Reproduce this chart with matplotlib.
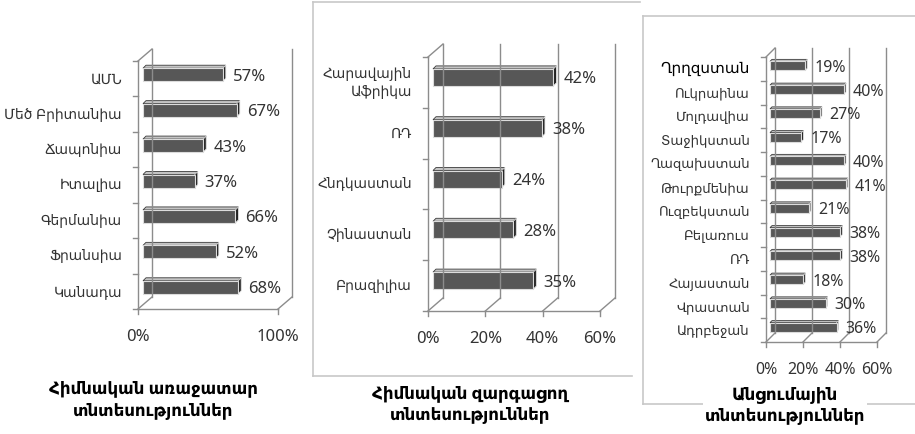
import matplotlib
matplotlib.use("Agg")
import matplotlib.pyplot as plt
from matplotlib.patches import Rectangle, Polygon
from matplotlib.lines import Line2D

plt.rcParams['font.family'] = ['Noto Sans', 'DejaVu Sans']

# leading economies
lead_names = ["ԱՄՆ", "Մեծ Բրիտանիա", "Ճապոնիա", "Իտալիա", "Գերմանիա", "Ֆրանսիա", "Կանադա"]
lead_vals = [57, 67, 43, 37, 66, 52, 68]

# developing economies
dev_names = ["Հարավային\nԱֆրիկա", "ՌԴ", "Հնդկաստան", "Չինաստան", "Բրազիլիա"]
dev_vals = [42, 38, 24, 28, 35]

# transition economies
trans_names = ["Ղրղզստան", "Ուկրաինա", "Մոլդավիա", "Տաջիկստան", "Ղազախստան", "Թուրքմենիա",
               "Ուզբեկստան", "Բելառուս", "ՌԴ", "Հայաստան", "Վրաստան", "Ադրբեջան"]
trans_vals = [19, 40, 27, 17, 40, 41, 21, 38, 38, 18, 30, 36]

titles = ["Հիմնական առաջատար\nտնտեսություններ",
          "Հիմնական զարգացող\nտնտեսություններ",
          "Անցումային\nտնտեսություններ"]

W, H = 915, 435
fig = plt.figure(figsize=(W / 100, H / 100), dpi=100)
fig.patch.set_facecolor("white")

GRID = "#8c8c8c"
TXT = "#333333"


def fig_line(x0, y0, x1, y1, color="#c8c8c8", lw=1.2):
    fig.add_artist(Line2D([x0 / W, x1 / W], [1 - y0 / H, 1 - y1 / H],
                          transform=fig.transFigure, color=color, lw=lw))


def panel(box, names, vals, xmax, ticks, wall, shift, bar_px, bd, cat_fs, val_fs, first_fs=None):
    l, t, r, b = box
    ax = fig.add_axes([l / W, 1 - b / H, (r - l) / W, (b - t) / H])
    n = len(names)
    ax.set_xlim(0, xmax)
    ax.set_ylim(n, 0)
    ax.axis("off")
    kx = xmax / (r - l)   # data units per pixel
    ky = n / (b - t)
    wdx, wdy = wall[0] * kx, -wall[1] * ky

    def line(xs, ys, **kw):
        ax.add_line(Line2D(xs, ys, color=GRID, lw=1.0, clip_on=False, **kw))

    # walls and floor
    line([0, 0], [n, 0])
    line([0, wdx], [0, wdy])
    line([0, xmax], [n, n])
    for tk in ticks:
        line([tk, tk + wdx], [n, n + wdy])
        line([tk + wdx, tk + wdx], [n + wdy, wdy])
        line([tk, tk], [n, n + 5 * ky])
        ax.text(tk, n + 27 * ky, f"{tk}%", ha="center", va="center",
                fontsize=val_fs, color=TXT, clip_on=False)
    for j in range(n + 1):
        line([-5 * kx, 0], [j, j])

    # bars with a small 3d face
    cx = shift[0] * kx
    h = bar_px * ky
    bdx, bdy = bd * kx, -bd * ky
    for i, (name, v) in enumerate(zip(names, vals)):
        yc = i + 0.5 - shift[1] * ky
        top, bot = yc - h / 2, yc + h / 2
        ax.add_patch(Polygon([(cx, top), (cx + bdx, top + bdy), (cx + v + bdx, top + bdy), (cx + v, top)],
                             closed=True, fc="#c4c4c4", ec="#3a3a3a", lw=0.6, clip_on=False))
        ax.add_patch(Polygon([(cx + v, bot), (cx + v + bdx, bot + bdy), (cx + v + bdx, top + bdy), (cx + v, top)],
                             closed=True, fc="#202020", ec="#e0e0e0", lw=0.6, clip_on=False))
        ax.add_patch(Rectangle((cx, top), v, h, fc="#575757", ec="#dcdcdc", lw=0.8, clip_on=False))
        ax.text(cx + v + bdx + 7 * kx, yc + 1 * ky, f"{v}%", ha="left", va="center",
                fontsize=val_fs, color=TXT, clip_on=False)
        fs = first_fs if (first_fs and i == 0) else cat_fs
        col = "black" if (first_fs and i == 0) else TXT
        ax.text(-16 * kx, i + 0.5, name, ha="right", va="center", fontsize=fs,
                color=col, linespacing=1.3, clip_on=False)
    return ax


# frames around the second and third charts
fig_line(313, 3, 640, 3)
fig_line(313, 3, 313, 377)
fig_line(313, 377, 632, 377)
fig_line(643, 17, 915, 17)
fig_line(643, 17, 643, 405)
fig_line(643, 405, 915, 405)

panel((138, 62, 278, 310), lead_names, lead_vals, 100, [0, 100], (14, 12), (5, 4), 13, 3, 10, 12)
panel((428, 58, 600, 312), dev_names, dev_vals, 60, [0, 20, 40, 60], (15, 13), (5, 5), 17, 3, 10, 12)
panel((766, 58, 877, 343), trans_names, trans_vals, 60, [0, 20, 40, 60], (9, 9), (4, 3), 9, 2, 9.5, 11.5,
      first_fs=11)

for (x, y), title in zip([(153, 400), (470, 404), (785, 405)], titles):
    fig.text(x / W, 1 - y / H, title, ha="center", va="center", fontsize=12,
             fontweight="bold", color="black", linespacing=1.35,
             bbox=dict(fc="white", ec="none", pad=1))

fig.savefig("out.png", dpi=100, facecolor="white")
